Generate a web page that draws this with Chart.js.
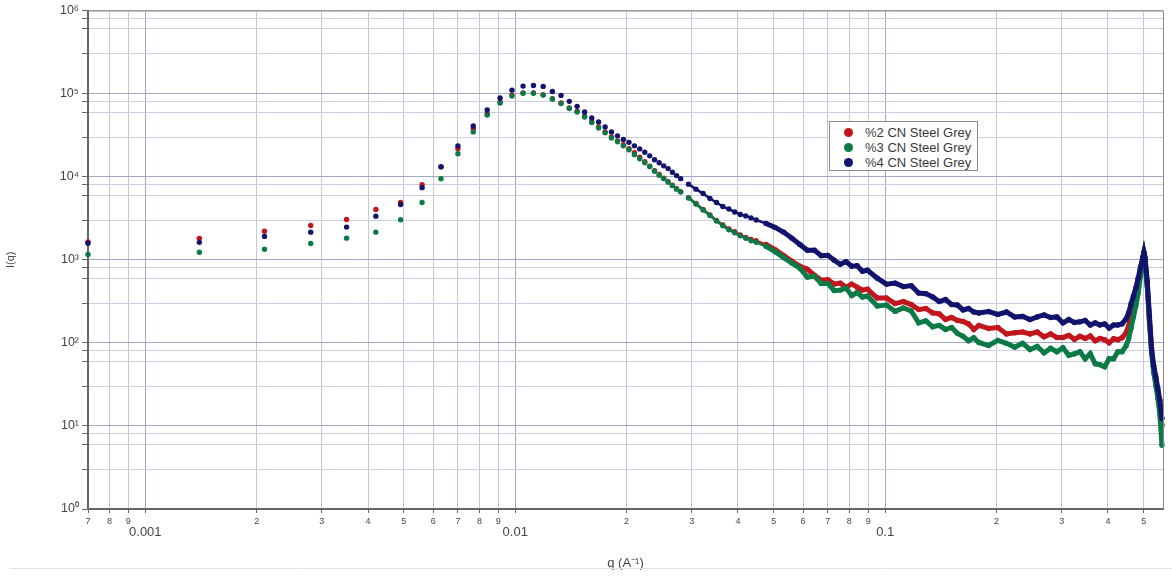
<!DOCTYPE html>
<html>
<head>
<meta charset="utf-8">
<script src="https://cdn.jsdelivr.net/npm/chart.js@4.4.1/dist/chart.umd.min.js"></script>
<style>
  html, body { margin: 0; padding: 0; background: #fff; }
  #wrap { position: relative; width: 1172px; height: 579px; }
  #legend {
    position: absolute; left: 829px; top: 121px; width: 147px; height: 48px;
    border: 1px solid #8c8c8c; background: #fff;
    font-family: "Liberation Sans", Arial, sans-serif; font-size: 13px; color: #3a3a3a;
  }
  #legend .row { position: absolute; left: 0; height: 15px; line-height: 15px; white-space: nowrap; }
  #legend .dot { position: absolute; left: 14px; top: 3px; width: 9px; height: 9px; border-radius: 50%; }
  #legend .txt { position: absolute; left: 35px; top: 0; }
</style>
</head>
<body>
<div id="wrap">
  <canvas id="chart" width="1172" height="579"></canvas>
  <div id="legend"></div>
</div>
<script>
// scattering vector q (1/A)
const q = [0.0007,0.0014,0.0021,0.0028,0.0035,0.0042,0.0049,0.0056,0.0063,0.0070,
  0.0077,0.0084,0.0091,0.0098,0.0105,0.0112,0.0119,0.0126,0.0133,0.0140,
  0.0147,0.0154,0.0161,0.0168,0.0175,0.0182,0.0189,0.0196,0.0203,0.0210,
  0.0217,0.0224,0.0231,0.0238,0.0245,0.0252,0.0259,0.0266,0.0273,0.0280,
  0.0294,0.0308,0.0322,0.0336,0.0350,0.0364,0.0378,0.0392,0.0406,0.0420,0.0434,0.0448,
  0.0476,0.0504,0.0532,0.0560,0.0588,0.0616,0.0644,0.0672,0.0700,0.0728,0.0756,0.0784,0.0812,0.0840,0.0868,0.0896,
  0.0952,0.1008,0.1064,0.1120,0.1176,0.1232,0.1288,0.1344,0.1400,0.1456,0.1512,0.1568,0.1624,0.1680,0.1736,0.1792,
  0.1904,0.2016,0.2128,0.2240,0.2352,0.2464,0.2576,0.2688,0.2800,0.2912,0.3024,0.3136,
  0.3248,0.3360,0.3472,0.3584,0.3696,0.3808,0.3920,0.4032,0.4144,0.4256,0.4368,0.4480,
  0.4550,0.4620,0.4690,0.4760,0.4830,0.4900,0.4970,0.5005,
  0.5040,0.5110,0.5180,0.5250,0.5320,0.5390,0.5460,0.5530,0.5600];

const iq2 = [1640,1810,2200,2590,3060,4020,4880,8020,13100,21650,
  37600,56800,79100,95900,102000,102000,96700,86700,76900,67000,
  61200,53400,45600,39700,34600,30100,27000,24200,21700,19400,
  17100,15100,13400,11800,10600,9590,8710,7910,7180,6610,
  5600,4750,4020,3460,2970,2630,2350,2170,1990,1860,1760,1690,
  1530,1320,1120,959,836,769,652,568,576,509,523,468,509,468,431,443,
  346,346,297,314,289,252,259,229,223,191,202,186,181,169,145,162,
  149,153,128,132,135,128,135,118,128,116,116,123,
  110,120,113,121,106,113,109,100,112,109,115,132,
  160,211,278,356,523,769,1042,1200,
  1010,509,194,80.3,48.8,36.1,25.2,17.6,10.1];

const iq3 = [1160,1230,1340,1570,1820,2150,3030,4880,9460,18900,
  34600,55300,76900,93300,101000,101000,95900,85900,75800,66100,
  60000,52300,44900,38600,33700,29300,26300,23500,21100,18400,
  16400,14700,13200,11600,10400,9460,8590,7800,7080,6520,
  5530,4680,3970,3410,2930,2560,2290,2110,1940,1810,1690,1620,
  1450,1250,1060,908,791,617,634,516,516,425,431,456,371,403,356,366,
  278,285,239,263,242,174,184,156,162,145,153,130,120,106,115,101,
  92.8,107,98.6,88.3,98.6,83.1,90.3,75.9,85.9,78.0,87.1,70.8,
  73.8,78.0,64.3,73.8,56.0,54.5,51.6,64.3,64.3,78.0,78,92.1,
  112,151,205,278,397,634,959,1160,
  959,482,184,75.8,43.7,30.7,21.4,13.5,5.84];

const iq4 = [1580,1620,1910,2150,2470,3350,4620,7380,13200,23500,
  40800,63400,88300,110000,123000,125000,122000,106000,95100,80600,
  70200,60000,50900,45600,39700,34600,31000,28100,25900,23500,
  21600,19700,17800,16000,14700,13500,12500,11300,10300,9460,
  8130,7080,6260,5450,4880,4370,4080,3760,3510,3370,3190,3010,
  2740,2450,2140,1810,1530,1300,1300,1120,1130,986,883,946,836,847,728,748,
  600,509,523,475,488,397,391,356,314,332,289,285,249,259,235,229,
  238,220,235,205,208,191,205,217,202,205,174,191,
  176,179,186,164,174,164,169,151,164,164,169,194,
  229,293,366,456,600,813,1071,1230,
  1070,553,211,84.7,53.0,39.2,28.1,20.2,12.3];

const seriesLabels = ['%2 CN Steel Grey', '%3 CN Steel Grey', '%4 CN Steel Grey'];
const seriesColors = ['#c2151d', '#0b7a46', '#12136c'];

const xTicks = [0.0007,0.0008,0.0009,0.001,0.002,0.003,0.004,0.005,0.006,0.007,0.008,0.009,
  0.01,0.02,0.03,0.04,0.05,0.06,0.07,0.08,0.09,0.1,0.2,0.3,0.4,0.5];
const xTickLabels = ['7','8','9',['','0.001'],'2','3','4','5','6','7','8','9',
  ['','0.01'],'2','3','4','5','6','7','8','9',['','0.1'],'2','3','4','5'];
const yTickLabels = ['10\u2070','10\u00b9','10\u00b2','10\u00b3','10\u2074','10\u2075','10\u2076'];

const FONT = '"Liberation Sans", Arial, sans-serif';

function isDecade(v) {
  const l = Math.log10(v);
  return Math.abs(l - Math.round(l)) < 1e-6;
}

function makeSet(i, values, order) {
  return {
    label: seriesLabels[i],
    data: q.map((x, k) => ({ x: x, y: values[k] })),
    borderColor: seriesColors[i],
    backgroundColor: seriesColors[i],
    pointRadius: 2.7,
    pointBorderWidth: 0,
    borderWidth: 5,
    showLine: true,
    clip: false,
    order: order,
    segment: {
      // the sparse low-q points are shown as separate dots
      borderColor: c => c.p0.parsed.x < 0.029 ? 'rgba(0,0,0,0)' : undefined,
      borderWidth: c => c.p0.parsed.x < 0.045 ? 2.5 : undefined
    }
  };
}

const frame = {
  id: 'frame',
  afterDraw(chart) {
    const a = chart.chartArea, ctx = chart.ctx;
    ctx.save();
    ctx.strokeStyle = '#8a8a8a';
    ctx.lineWidth = 1;
    ctx.beginPath();
    ctx.moveTo(a.left, a.top + 0.5);
    ctx.lineTo(a.right + 0.5, a.top + 0.5);
    ctx.lineTo(a.right + 0.5, a.bottom);
    ctx.stroke();
    ctx.strokeStyle = '#e4e4e4';
    ctx.beginPath();
    ctx.moveTo(10, 568.5);
    ctx.lineTo(1172, 568.5);
    ctx.stroke();
    ctx.restore();
  }
};

new Chart(document.getElementById('chart'), {
  type: 'scatter',
  data: {
    datasets: [
      makeSet(0, iq2, 3),
      makeSet(1, iq3, 2),
      makeSet(2, iq4, 1)
    ]
  },
  options: {
    responsive: false,
    animation: false,
    layout: { padding: { top: 8, right: 9, left: 0, bottom: 0 } },
    plugins: { legend: { display: false }, tooltip: { enabled: false } },
    scales: {
      x: {
        type: 'logarithmic',
        min: 0.0007,
        max: 0.5637,
        afterBuildTicks: s => {
          s.ticks = xTicks.map((v, i) => ({ value: v, major: Array.isArray(xTickLabels[i]) }));
        },
        afterFit: s => { s.height = 70; },
        ticks: {
          autoSkip: false,
          maxRotation: 0,
          padding: 3,
          color: '#444',
          callback: (v, i) => xTickLabels[i],
          font: c => Array.isArray(xTickLabels[c.index])
            ? { family: FONT, size: 13, lineHeight: 0.85 }
            : { family: FONT, size: 9 }
        },
        grid: {
          color: c => c.tick && c.tick.major ? '#a3a7c6' : '#c3c6de',
          tickLength: 4,
          tickColor: '#666'
        },
        border: { color: '#666', width: 2 },
        title: {
          display: true,
          text: 'q (A\u207b\u00b9)',
          color: '#444',
          font: { family: FONT, size: 13 },
          padding: { top: 0, bottom: 8 }
        }
      },
      y: {
        type: 'logarithmic',
        min: 1,
        max: 1e6,
        afterBuildTicks: s => {
          const t = [];
          for (let e = 0; e < 6; e++) {
            for (let m = 1; m < 10; m++) t.push({ value: m * Math.pow(10, e), major: m === 1 });
          }
          t.push({ value: 1e6, major: true });
          s.ticks = t;
        },
        afterFit: s => { s.width = 88; },
        ticks: {
          padding: 3,
          color: '#444',
          font: { family: FONT, size: 12.5 },
          callback: v => isDecade(v) ? yTickLabels[Math.round(Math.log10(v))] : ''
        },
        grid: {
          color: c => c.tick && isDecade(c.tick.value) ? '#a3a7c6' : '#cbcee4',
          tickLength: 6,
          tickColor: '#666'
        },
        border: { color: '#666', width: 2 },
        title: {
          display: true,
          text: 'I(q)',
          color: '#444',
          font: { family: FONT, size: 11 },
          padding: { top: 4, bottom: 0 }
        }
      }
    }
  },
  plugins: [frame]
});

// legend box
const legend = document.getElementById('legend');
seriesLabels.forEach((name, i) => {
  const row = document.createElement('div');
  row.className = 'row';
  row.style.top = (3 + i * 15) + 'px';
  row.innerHTML = '<span class="dot" style="background:' + seriesColors[i] + '"></span><span class="txt">' + name + '</span>';
  legend.appendChild(row);
});
</script>
</body>
</html>
